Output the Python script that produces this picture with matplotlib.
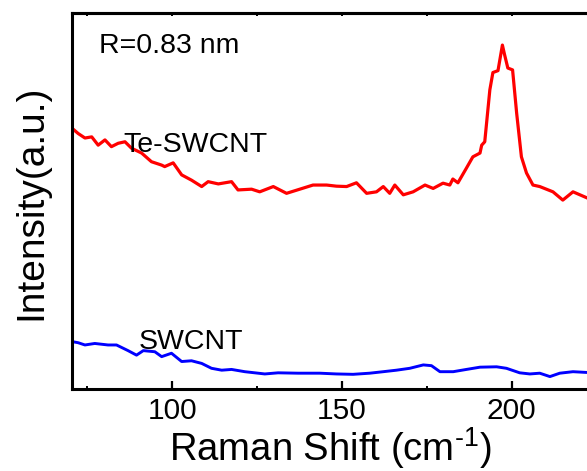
import matplotlib
matplotlib.use("Agg")
import matplotlib.pyplot as plt

plt.rcParams['font.family'] = ['Liberation Sans', 'DejaVu Sans']
plt.rcParams['mathtext.fontset'] = 'custom'
plt.rcParams['mathtext.rm'] = 'Liberation Sans'
plt.rcParams['mathtext.it'] = 'Liberation Sans'
plt.rcParams['mathtext.default'] = 'regular'

# Raman shift (cm^-1) and intensity (a.u.)
te_x = [70.5, 72.3, 74.3, 76.3, 78.2, 80.2, 82.1, 84.1, 86.1, 88.0, 91.0, 93.9,
        96.9, 97.8, 100.3, 102.8, 105.7, 108.7, 110.6, 113.6, 117.5, 119.4, 123.4,
        125.8, 129.8, 133.7, 137.6, 141.5, 145.5, 148.4, 151.4, 154.3, 157.3, 160.2,
        162.2, 164.1, 165.6, 168.1, 171.0, 174.5, 176.9, 179.8, 181.8, 182.7, 184.2,
        186.7, 188.6, 190.7, 191.2, 192.1, 193.6, 194.5, 196.0, 197.3, 197.9, 198.9,
        200.3, 201.5, 202.9, 204.4, 206.3, 208.3, 212.2, 215.1, 218.1, 222.2]
te_y = [69.3, 67.9, 66.7, 67.0, 64.8, 66.2, 64.4, 65.3, 65.7, 64.0, 62.7, 60.4,
        59.5, 59.1, 60.1, 56.9, 55.5, 53.8, 55.1, 54.5, 55.1, 52.9, 53.1,
        52.4, 53.8, 52.0, 53.1, 54.2, 54.2, 53.9, 53.8, 54.8, 52.0, 52.4,
        53.8, 52.0, 54.2, 51.6, 52.4, 54.2, 53.3, 54.7, 54.2, 55.8, 54.8,
        58.7, 61.7, 62.7, 64.8, 65.7, 79.5, 84.1, 84.6, 91.4, 89.0, 85.3,
        84.8, 73.3, 61.7, 57.4, 54.2, 53.8, 52.4, 50.2, 52.4, 50.8]

sw_x = [70.5, 72.3, 74.3, 77.2, 81.1, 83.6, 87.0, 89.5, 91.5, 94.9, 96.9, 99.8,
        102.8, 105.7, 108.7, 111.6, 114.6, 117.5, 121.4, 127.3, 131.2, 137.1, 143.5,
        148.4, 153.3, 158.2, 162.2, 166.1, 170.0, 174.0, 176.4, 178.9, 182.8, 186.7,
        190.7, 195.6, 198.5, 202.4, 205.4, 208.3, 211.3, 214.2, 218.1, 222.1]
sw_y = [12.6, 12.3, 11.7, 12.1, 11.7, 11.7, 10.2, 9.0, 10.2, 9.9, 8.6, 9.5,
        7.3, 7.5, 6.8, 5.5, 5.0, 5.2, 4.6, 4.0, 4.3, 4.2, 4.2,
        4.0, 3.9, 4.2, 4.6, 5.0, 5.5, 6.4, 6.2, 4.6, 4.6, 5.2,
        5.8, 5.9, 5.5, 4.3, 4.0, 4.2, 3.3, 4.2, 4.6, 4.4]

major_ticks = [100, 150, 200]
minor_ticks = [75, 125, 175, 225]

W, H = 587, 471
fig = plt.figure(figsize=(W / 100, H / 100), dpi=100)
left_px, top_px, bot_px = 71.7, 12.7, 389.0
x0, x1 = 70.4, 230.0
px_per_unit = 3.394
right_px = left_px + (x1 - x0) * px_per_unit
ax = fig.add_axes([left_px / W, (H - bot_px) / H,
                   (right_px - left_px) / W, (bot_px - top_px) / H])

ax.plot(te_x, te_y, color='#ff0000', lw=2.3)
ax.plot(sw_x, sw_y, color='#0000ff', lw=2.1)

ax.set_xlim(x0, x1)
ax.set_ylim(0, 100)

for s in ['left', 'bottom', 'top']:
    ax.spines[s].set_linewidth(2.2)
ax.spines['right'].set_visible(False)

ax.set_xticks(major_ticks)
ax.set_xticks(minor_ticks, minor=True)
ax.set_yticks([])
ax.tick_params(axis='x', which='major', direction='in', length=6, width=1.6,
               labelsize=21.5, pad=6)
ax.tick_params(axis='x', which='minor', direction='in', length=2.5, width=1.4)

top = ax.secondary_xaxis('top')
top.set_xticks(major_ticks + minor_ticks)
top.tick_params(direction='in', length=2.5, width=1.4, labeltop=False)
top.spines['top'].set_linewidth(2.2)

fig.text(330 / W, 1 - 461 / H, r'Raman Shift (cm$^{\text{-}1}$)', fontsize=27.5,
         ha='center', va='baseline')
fig.text(31 / W, 1 - 202 / H, 'Intensity(a.u.)', fontsize=28, rotation=90,
         ha='center', va='center')

ax.text(78.4, 89.2, 'R=0.83 nm', fontsize=20.5, ha='left', va='baseline')
ax.text(85.5, 63.1, 'Te-SWCNT', fontsize=20.5, ha='left', va='baseline')
ax.text(90.0, 10.55, 'SWCNT', fontsize=20.5, ha='left', va='baseline')

fig.savefig('out.png', dpi=100)
